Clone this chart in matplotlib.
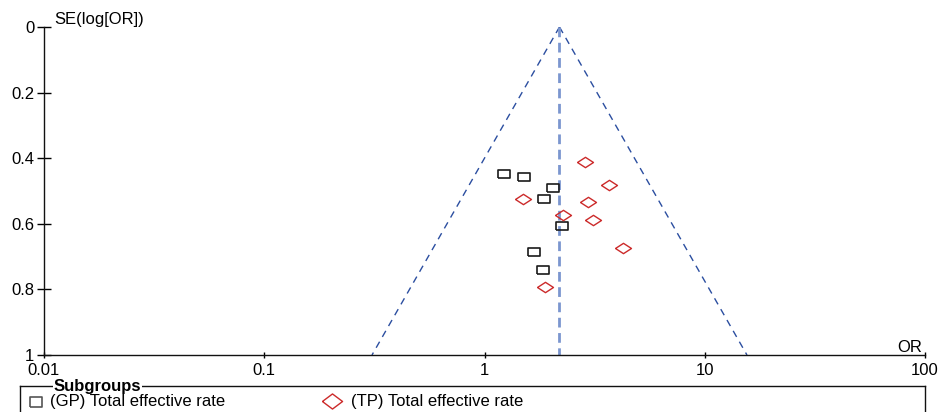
import numpy as np
import matplotlib
matplotlib.use("Agg")
import matplotlib.pyplot as plt
from matplotlib.lines import Line2D

plt.rcParams['font.family'] = ['Liberation Sans', 'DejaVu Sans']

# Study estimates
gp_or = [1.22, 1.51, 2.04, 1.87, 2.25, 1.67, 1.84]
gp_se = [0.448, 0.457, 0.492, 0.523, 0.607, 0.687, 0.740]

tp_or = [2.87, 3.69, 1.50, 2.96, 2.27, 3.12, 4.27, 1.89]
tp_se = [0.411, 0.482, 0.524, 0.534, 0.574, 0.589, 0.674, 0.792]

pooled_or = 2.19

x_ticks = [0.01, 0.1, 1, 10, 100]
x_labels = ['0.01', '0.1', '1', '10', '100']
y_ticks = [0, 0.2, 0.4, 0.6, 0.8, 1]
y_labels = ['0', '0.2', '0.4', '0.6', '0.8', '1']

FS = 12
W, H = 939, 412
fig = plt.figure(figsize=(W / 100, H / 100), dpi=100)
ax = fig.add_axes([44 / W, 1 - 355 / H, (925 - 44) / W, (355 - 27) / H])

# funnel (95% pseudo confidence limits)
se_line = np.array([0, 1])
ax.plot(pooled_or * np.exp(-1.96 * se_line), se_line, color='#2b4ea0', lw=1.0,
        dashes=(5, 4))
ax.plot(pooled_or * np.exp(1.96 * se_line), se_line, color='#2b4ea0', lw=1.0,
        dashes=(5, 4))
ax.plot([pooled_or, pooled_or], se_line, color='#7b96cf', lw=2.0, dashes=(3.5, 2))

rect = [(-6.5, -4), (6.5, -4), (6.5, 4), (-6.5, 4), (-6.5, -4)]
diam = [(-8.5, 0), (0, 5.5), (8.5, 0), (0, -5.5), (-8.5, 0)]

ax.plot(gp_or, gp_se, ls='none', marker=rect, ms=9.0, mfc='none',
        mec='#1a1a1a', mew=1.2)
ax.plot(tp_or, tp_se, ls='none', marker=diam, ms=11.5, mfc='none',
        mec='#cc2a2a', mew=1.0)

ax.set_xscale('log')
ax.set_xlim(0.01, 100)
ax.set_ylim(1, 0)
ax.set_xticks(x_ticks)
ax.set_xticklabels(x_labels)
ax.set_yticks(y_ticks)
ax.set_yticklabels(y_labels)
ax.minorticks_off()
ax.tick_params(axis='x', direction='inout', length=5, width=1, pad=3, labelsize=FS)
ax.tick_params(axis='y', direction='inout', length=10, width=1, pad=2, labelsize=FS)

for s in ['top', 'right']:
    ax.spines[s].set_visible(False)
for s in ['left', 'bottom']:
    ax.spines[s].set_linewidth(1.0)
    ax.spines[s].set_color('#111111')

fig.text(54 / W, 1 - 24 / H, 'SE(log[OR])', ha='left', va='baseline', fontsize=FS)
fig.text(922 / W, 1 - 352 / H, 'OR', ha='right', va='baseline', fontsize=FS)

# legend box
box_top = 1 - 386 / H
fig.add_artist(Line2D([20 / W, 925 / W], [box_top, box_top], color='#111111', lw=1.0))
fig.add_artist(Line2D([20 / W, 20 / W], [box_top, 0], color='#111111', lw=1.0))
fig.add_artist(Line2D([925 / W, 925 / W], [box_top, 0], color='#111111', lw=1.0))
fig.text(54 / W, 1 - 391 / H, 'Subgroups', ha='left', va='baseline', fontsize=FS,
         fontweight='bold', bbox=dict(facecolor='white', edgecolor='none', pad=0.5))

row_y = 1 - 406 / H
leg_diam = [(-10, 0), (0, 7.5), (10, 0), (0, -7.5), (-10, 0)]
leg_rect = [(-5.5, -4.5), (5.5, -4.5), (5.5, 4.5), (-5.5, 4.5), (-5.5, -4.5)]
fig.add_artist(Line2D([35.5 / W], [1 - 402 / H], ls='none', marker=leg_rect, ms=8.0,
                      mfc='none', mec='#555555', mew=1.2))
fig.text(50 / W, row_y, '(GP) Total effective rate', ha='left', va='baseline', fontsize=FS)
fig.add_artist(Line2D([332 / W], [1 - 400.5 / H], ls='none', marker=leg_diam, ms=14.5,
                      mfc='none', mec='#cc2a2a', mew=1.0))
fig.text(351 / W, row_y, '(TP) Total effective rate', ha='left', va='baseline', fontsize=FS)

fig.savefig('out.png', dpi=100)
